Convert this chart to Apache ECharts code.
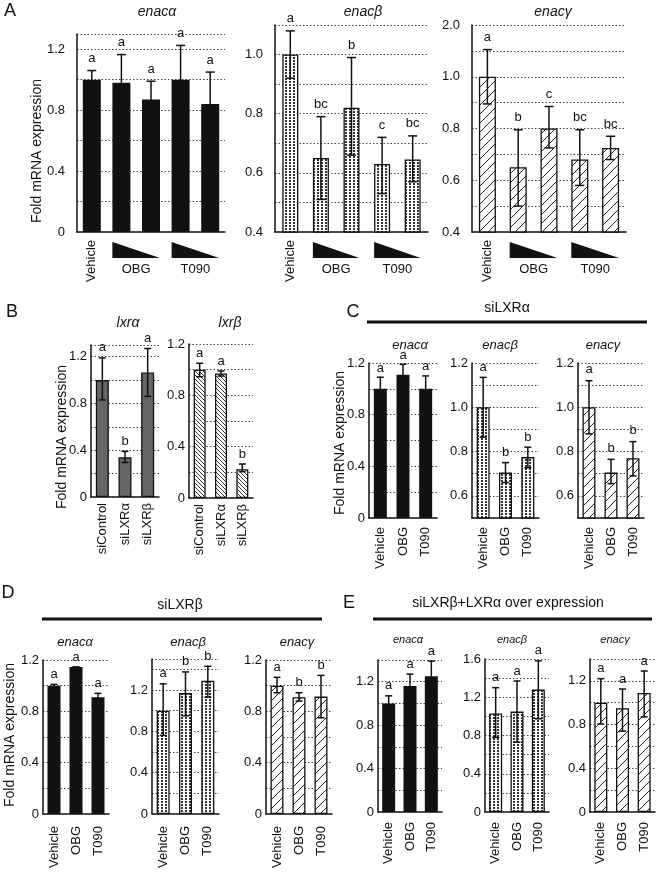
<!DOCTYPE html>
<html><head><meta charset="utf-8">
<script src="https://cdn.jsdelivr.net/npm/echarts@6/dist/echarts.min.js"></script>
<style>html,body{margin:0;padding:0;background:#fff}#c{width:660px;height:873px}</style>
</head><body><div id="c"></div>
<script>
const FONT = '"Liberation Sans", Arial, Helvetica, sans-serif';

// ---------- categories ----------
const catsA = ['Vehicle', 'OBG (high)', 'OBG (low)', 'T090 (high)', 'T090 (low)'];
const groupsA = [['OBG', 1, 2], ['T090', 3, 4]];
const catsB = ['siControl', 'siLXRα', 'siLXRβ'];
const catsT = ['Vehicle', 'OBG', 'T090'];

// ---------- tick labels ----------
const ticks0to12 = [0, 0.4, 0.8, 1.2];
const labels0to12 = ['0', '0.4', '0.8', '1.2'];
const ticksA2 = [0.4, 0.6, 0.8, 1.0];
const labelsA2 = ['0.4', '0.6', '0.8', '1.0'];
const ticksA3 = [0.4, 0.6, 0.8, 1.0, 1.2];
const labelsA3 = ['0.4', '0.6', '0.8', '1.0', '2.0'];
const ticksC23 = [0.6, 0.8, 1.0, 1.2];
const labelsC23 = ['0.6', '0.8', '1.0', '1.2'];
const ticksE2 = [0, 0.4, 0.8, 1.2, 1.6];
const labelsE2 = ['0', '0.4', '0.8', '1.2', '1.6'];

// ---------- Panel A ----------
const aAlphaMean = [1.00, 0.98, 0.87, 1.00, 0.84];
const aAlphaHi   = [1.06, 1.165, 0.99, 1.225, 1.05];
const aAlphaLo   = [0.94, 0.80, 0.75, 0.78, 0.63];
const aAlphaSig  = ['a', 'a', 'a', 'a', 'a'];

const aBetaMean = [1.00, 0.65, 0.82, 0.63, 0.645];
const aBetaHi   = [1.08, 0.79, 0.99, 0.72, 0.725];
const aBetaLo   = [0.92, 0.51, 0.66, 0.53, 0.57];
const aBetaSig  = ['a', 'bc', 'b', 'c', 'bc'];

const aGammaMean = [1.00, 0.65, 0.80, 0.68, 0.725];
const aGammaHi   = [1.105, 0.795, 0.885, 0.795, 0.77];
const aGammaLo   = [0.895, 0.50, 0.725, 0.58, 0.68];
const aGammaSig  = ['a', 'b', 'c', 'bc', 'bc'];

// ---------- Panel B ----------
const bLxrAMean = [1.00, 0.34, 1.065];
const bLxrAHi   = [1.19, 0.39, 1.27];
const bLxrALo   = [0.83, 0.295, 0.86];
const bLxrASig  = ['a', 'b', 'a'];

const bLxrBMean = [1.00, 0.97, 0.225];
const bLxrBHi   = [1.05, 0.99, 0.265];
const bLxrBLo   = [0.945, 0.95, 0.205];
const bLxrBSig  = ['a', 'a', 'b'];

// ---------- Panel C (siLXRα) ----------
const cAlphaMean = [1.00, 1.11, 1.00];
const cAlphaHi   = [1.09, 1.19, 1.10];
const cAlphaLo   = [0.91, 1.03, 0.90];
const cAlphaSig  = ['a', 'a', 'a'];

const cBetaMean = [1.00, 0.705, 0.775];
const cBetaHi   = [1.135, 0.75, 0.82];
const cBetaLo   = [0.865, 0.66, 0.727];
const cBetaSig  = ['a', 'b', 'b'];

const cGammaMean = [1.00, 0.705, 0.77];
const cGammaHi   = [1.12, 0.765, 0.845];
const cGammaLo   = [0.88, 0.655, 0.69];
const cGammaSig  = ['a', 'b', 'b'];

// ---------- Panel D (siLXRβ) ----------
const dAlphaMean = [1.00, 1.145, 0.91];
const dAlphaHi   = [1.01, 1.145, 0.94];
const dAlphaLo   = [0.99, 1.145, 0.88];
const dAlphaSig  = ['a', 'a', 'a'];

const dBetaMean = [1.00, 1.17, 1.29];
const dBetaHi   = [1.26, 1.375, 1.43];
const dBetaLo   = [0.76, 0.95, 1.13];
const dBetaSig  = ['a', 'b', 'b'];

const dGammaMean = [1.00, 0.91, 0.915];
const dGammaHi   = [1.065, 0.945, 1.08];
const dGammaLo   = [0.945, 0.88, 0.75];
const dGammaSig  = ['a', 'b', 'b'];

// ---------- Panel E (siLXRβ + LXRα over expression) ----------
const eAlphaMean = [1.00, 1.16, 1.25];
const eAlphaHi   = [1.07, 1.27, 1.39];
const eAlphaLo   = [0.93, 1.05, 1.11];
const eAlphaSig  = ['a', 'a', 'a'];

const eBetaMean = [1.03, 1.05, 1.28];
const eBetaHi   = [1.30, 1.37, 1.58];
const eBetaLo   = [0.78, 0.73, 0.975];
const eBetaSig  = ['a', 'a', 'a'];

const eGammaMean = [1.00, 0.95, 1.09];
const eGammaHi   = [1.22, 1.125, 1.29];
const eGammaLo   = [0.805, 0.74, 0.87];
const eGammaSig  = ['a', 'a', 'a'];

// ---------- fills ----------
function makePattern(kind) {
  const c = document.createElement('canvas');
  const g = c.getContext('2d');
  if (kind === 'dots') {
    c.width = 4; c.height = 3;
    g.fillStyle = '#fff'; g.fillRect(0, 0, 4, 3);
    g.fillStyle = '#333'; g.fillRect(1, 0, 2, 2);
  } else if (kind === 'hatch') {
    const s = 9; c.width = s; c.height = s;
    g.fillStyle = '#fff'; g.fillRect(0, 0, s, s);
    g.strokeStyle = '#222'; g.lineWidth = 1;
    g.beginPath();
    g.moveTo(0, s); g.lineTo(s, 0);
    g.moveTo(-1, 1); g.lineTo(1, -1);
    g.moveTo(s - 1, s + 1); g.lineTo(s + 1, s - 1);
    g.stroke();
  } else if (kind === 'dense') {
    const s = 4; c.width = s; c.height = s;
    g.fillStyle = '#fff'; g.fillRect(0, 0, s, s);
    g.strokeStyle = '#222'; g.lineWidth = 0.9;
    g.beginPath();
    g.moveTo(0, 0); g.lineTo(s, s);
    g.moveTo(s - 1, -1); g.lineTo(s + 1, 1);
    g.moveTo(-1, s - 1); g.lineTo(1, s + 1);
    g.stroke();
  }
  return { image: c, repeat: 'repeat' };
}
const FILLS = {
  solid: '#111',
  gray: '#666',
  dots: makePattern('dots'),
  hatch: makePattern('hatch'),
  dense: makePattern('dense')
};

const vehicleOnly = (v, i) => (i === 0 ? v : '');
const showAll = (v) => v;

const P = [
  { cats: catsA, m: aAlphaMean, hi: aAlphaHi, lo: aAlphaLo, sig: aAlphaSig, min: 0, max: 1.3, step: 0.2, tv: ticks0to12, tl: labels0to12,
    grid: { left: 77, top: 34, width: 148, height: 198 }, fill: 'solid', bw: 18, cap: 4.5, ym: 12, xm: 8, so: 12, xf: vehicleOnly, groups: groupsA },
  { cats: catsA, m: aBetaMean, hi: aBetaHi, lo: aBetaLo, sig: aBetaSig, min: 0.4, max: 1.1, step: 0.1, tv: ticksA2, tl: labelsA2,
    grid: { left: 275, top: 25, width: 153, height: 207 }, fill: 'dots', bw: 16, cap: 4.5, ym: 12, xm: 8, so: 12, xf: vehicleOnly, groups: groupsA },
  { cats: catsA, m: aGammaMean, hi: aGammaHi, lo: aGammaLo, sig: aGammaSig, min: 0.4, max: 1.2, step: 0.1, tv: ticksA3, tl: labelsA3,
    grid: { left: 472, top: 25, width: 154, height: 207 }, fill: 'hatch', bw: 17, cap: 4.5, ym: 12, xm: 8, so: 12, xf: vehicleOnly, groups: groupsA },

  { cats: catsB, m: bLxrAMean, hi: bLxrAHi, lo: bLxrALo, sig: bLxrASig, min: 0, max: 1.3, step: 0.2, tv: ticks0to12, tl: labels0to12,
    grid: { left: 91, top: 345, width: 68, height: 152 }, fill: 'gray', bw: 13, cap: 3.5, ym: 4, xm: 6, so: 10, xf: showAll },
  { cats: catsB, m: bLxrBMean, hi: bLxrBHi, lo: bLxrBLo, sig: bLxrBSig, min: 0, max: 1.2, step: 0.2, tv: ticks0to12, tl: labels0to12,
    grid: { left: 189, top: 344, width: 64, height: 154 }, fill: 'dense', bw: 12, cap: 3.5, ym: 4, xm: 6, so: 10, xf: showAll },

  { cats: catsT, m: cAlphaMean, hi: cAlphaHi, lo: cAlphaLo, sig: cAlphaSig, min: 0, max: 1.2, step: 0.2, tv: ticks0to12, tl: labels0to12,
    grid: { left: 369, top: 363, width: 68, height: 155 }, fill: 'solid', bw: 13, cap: 3.5, ym: 4, xm: 9, so: 9, xf: showAll },
  { cats: catsT, m: cBetaMean, hi: cBetaHi, lo: cBetaLo, sig: cBetaSig, min: 0.5, max: 1.2, step: 0.1, tv: ticksC23, tl: labelsC23,
    grid: { left: 472, top: 363, width: 67, height: 155 }, fill: 'dots', bw: 13, cap: 3.5, ym: 4, xm: 9, so: 10, xf: showAll },
  { cats: catsT, m: cGammaMean, hi: cGammaHi, lo: cGammaLo, sig: cGammaSig, min: 0.5, max: 1.2, step: 0.1, tv: ticksC23, tl: labelsC23,
    grid: { left: 578, top: 363, width: 66, height: 155 }, fill: 'hatch', bw: 13, cap: 3.5, ym: 4, xm: 9, so: 11, xf: showAll },

  { cats: catsT, m: dAlphaMean, hi: dAlphaHi, lo: dAlphaLo, sig: dAlphaSig, min: 0, max: 1.2, step: 0.2, tv: ticks0to12, tl: labels0to12,
    grid: { left: 43, top: 660, width: 66, height: 154 }, fill: 'solid', bw: 13, cap: 3.5, ym: 4, xm: 12, so: 10, xf: showAll },
  { cats: catsT, m: dBetaMean, hi: dBetaHi, lo: dBetaLo, sig: dBetaSig, min: 0, max: 1.5, step: 0.2, tv: ticks0to12, tl: labels0to12,
    grid: { left: 152, top: 659, width: 67, height: 155 }, fill: 'dots', bw: 13, cap: 3.5, ym: 4, xm: 12, so: 10, xf: showAll },
  { cats: catsT, m: dGammaMean, hi: dGammaHi, lo: dGammaLo, sig: dGammaSig, min: 0, max: 1.2, step: 0.2, tv: ticks0to12, tl: labels0to12,
    grid: { left: 266, top: 660, width: 66, height: 154 }, fill: 'hatch', bw: 13, cap: 3.5, ym: 4, xm: 12, so: 10, xf: showAll },

  { cats: catsT, m: eAlphaMean, hi: eAlphaHi, lo: eAlphaLo, sig: eAlphaSig, min: 0, max: 1.4, step: 0.2, tv: ticks0to12, tl: labels0to12,
    grid: { left: 378, top: 660, width: 64, height: 152 }, fill: 'solid', bw: 13, cap: 3.5, ym: 4, xm: 10, so: 10, xf: showAll },
  { cats: catsT, m: eBetaMean, hi: eBetaHi, lo: eBetaLo, sig: eBetaSig, min: 0, max: 1.6, step: 0.2, tv: ticksE2, tl: labelsE2,
    grid: { left: 485, top: 659, width: 64, height: 153 }, fill: 'dots', bw: 13, cap: 3.5, ym: 4, xm: 10, so: 10, xf: showAll },
  { cats: catsT, m: eGammaMean, hi: eGammaHi, lo: eGammaLo, sig: eGammaSig, min: 0, max: 1.4, step: 0.2, tv: ticks0to12, tl: labels0to12,
    grid: { left: 590, top: 659, width: 65, height: 153 }, fill: 'hatch', bw: 13, cap: 3.5, ym: 4, xm: 10, so: 10, xf: showAll }
];

function tickFmt(tv, tl) {
  return function (v) {
    for (let j = 0; j < tv.length; j++) if (Math.abs(v - tv[j]) < 1e-6) return tl[j];
    return '';
  };
}

function errRender(p) {
  return function (params, api) {
    const i = api.value(0), lo = api.value(1), hi = api.value(2);
    const t = api.coord([i, hi]), b = api.coord([i, lo]);
    const x = t[0];
    const st = { stroke: '#111', lineWidth: 1.5 };
    return {
      type: 'group',
      children: [
        { type: 'line', shape: { x1: x, y1: t[1], x2: x, y2: b[1] }, style: st },
        { type: 'line', shape: { x1: x - p.cap, y1: t[1], x2: x + p.cap, y2: t[1] }, style: st },
        { type: 'line', shape: { x1: x - p.cap, y1: b[1], x2: x + p.cap, y2: b[1] }, style: st },
        { type: 'text', style: { text: p.sig[params.dataIndex], x: x, y: t[1] - p.so,
            align: 'center', verticalAlign: 'middle', textAlign: 'center', textVerticalAlign: 'middle',
            font: '13px ' + FONT, fill: '#111' } }
      ]
    };
  };
}

function wedgeRender(p) {
  return function (params, api) {
    const g = p.groups[params.dataIndex];
    const cs = params.coordSys;
    const base = cs.y + cs.height;
    const xa = api.coord([api.value(0), p.min])[0] - p.bw / 2;
    const xb = api.coord([api.value(1), p.min])[0] + p.bw / 2;
    return {
      type: 'group',
      children: [
        { type: 'polygon', shape: { points: [[xa, base + 10], [xa, base + 26], [xb, base + 26]] }, style: { fill: '#111' } },
        { type: 'text', style: { text: g[0], x: (xa + xb) / 2, y: base + 37,
            align: 'center', verticalAlign: 'middle', textAlign: 'center', textVerticalAlign: 'middle',
            font: '13px ' + FONT, fill: '#111' } }
      ]
    };
  };
}

const grids = [], xAxes = [], yAxes = [], series = [];
P.forEach((p, k) => {
  grids.push(Object.assign({ containLabel: false }, p.grid));
  xAxes.push({
    type: 'category', gridIndex: k, data: p.cats,
    axisLine: { show: true, lineStyle: { color: '#111', width: 1.5 } },
    axisTick: { show: false },
    axisLabel: { rotate: 90, margin: p.xm, fontSize: 13, fontFamily: FONT, color: '#111', interval: 0, formatter: p.xf },
    splitLine: { show: false }
  });
  yAxes.push({
    type: 'value', gridIndex: k, min: p.min, max: p.max, interval: p.step,
    axisLine: { show: true, lineStyle: { color: '#111', width: 1.5 } },
    axisTick: { show: false },
    axisLabel: { margin: p.ym, fontSize: 13, fontFamily: FONT, color: '#111', formatter: tickFmt(p.tv, p.tl), showMaxLabel: true, showMinLabel: true },
    splitLine: { show: true, showMinLine: false, showMaxLine: true, lineStyle: { color: '#444', width: 1, type: [1.5, 2] } }
  });
  series.push({
    type: 'bar', xAxisIndex: k, yAxisIndex: k, data: p.m, barWidth: p.bw, silent: true,
    itemStyle: { color: FILLS[p.fill], borderColor: '#111', borderWidth: (p.fill === 'solid') ? 0 : 1.3 }
  });
  series.push({
    type: 'custom', xAxisIndex: k, yAxisIndex: k, silent: true, z: 5,
    data: p.m.map((v, i) => [i, p.lo[i], p.hi[i]]),
    renderItem: errRender(p)
  });
  if (p.groups) {
    series.push({
      type: 'custom', xAxisIndex: k, yAxisIndex: k, silent: true, z: 5, clip: false,
      data: p.groups.map(g => [g[1], g[2]]),
      renderItem: wedgeRender(p)
    });
  }
});

function txt(text, x, y, size, opts) {
  opts = opts || {};
  return {
    type: 'text', x: x, y: y, rotation: opts.rot || 0, silent: true,
    style: { text: text, font: (opts.italic ? 'italic ' : '') + size + 'px ' + FONT, fill: '#111',
      align: opts.align || 'center', verticalAlign: 'middle', textAlign: opts.align || 'center', textVerticalAlign: 'middle' }
  };
}
function hline(x1, x2, y) {
  return { type: 'line', silent: true, shape: { x1: x1, y1: y, x2: x2, y2: y }, style: { stroke: '#111', lineWidth: 3 } };
}
const YNAME = 'Fold mRNA expression';
const graphics = [
  txt('A', 10, 11, 18), txt('B', 12, 312, 18), txt('C', 353, 312, 18), txt('D', 8, 593, 18), txt('E', 349, 603, 18),
  txt('enacα', 157, 12, 14, { italic: true }), txt('enacβ', 363, 12, 14, { italic: true }), txt('enacγ', 553, 12, 14, { italic: true }),
  txt('lxrα', 128, 323, 14, { italic: true }), txt('lxrβ', 230, 323, 14, { italic: true }),
  txt('siLXRα', 507, 308, 14), hline(367, 647, 322),
  txt('enacα', 410, 345, 13, { italic: true }), txt('enacβ', 500, 345, 13, { italic: true }), txt('enacγ', 603, 345, 13, { italic: true }),
  txt('siLXRβ', 180, 605, 14), hline(42, 322, 619),
  txt('enacα', 75, 642, 13, { italic: true }), txt('enacβ', 188, 642, 13, { italic: true }), txt('enacγ', 297, 642, 13, { italic: true }),
  txt('siLXRβ+LXRα over expression', 508, 603, 14), hline(373, 652, 619),
  txt('enacα', 408, 640, 11, { italic: true }), txt('enacβ', 512, 640, 11, { italic: true }), txt('enacγ', 615, 640, 11, { italic: true }),
  txt(YNAME, 37, 151, 14, { rot: Math.PI / 2 }),
  txt(YNAME, 62, 437, 14, { rot: Math.PI / 2 }),
  txt(YNAME, 340, 443, 14, { rot: Math.PI / 2 }),
  txt(YNAME, 10, 735, 14, { rot: Math.PI / 2 })
];

const chart = echarts.init(document.getElementById('c'), null, { renderer: 'canvas' });
chart.setOption({
  animation: false,
  backgroundColor: '#fff',
  textStyle: { fontFamily: FONT },
  grid: grids, xAxis: xAxes, yAxis: yAxes, series: series,
  graphic: { elements: graphics }
});
</script></body></html>
